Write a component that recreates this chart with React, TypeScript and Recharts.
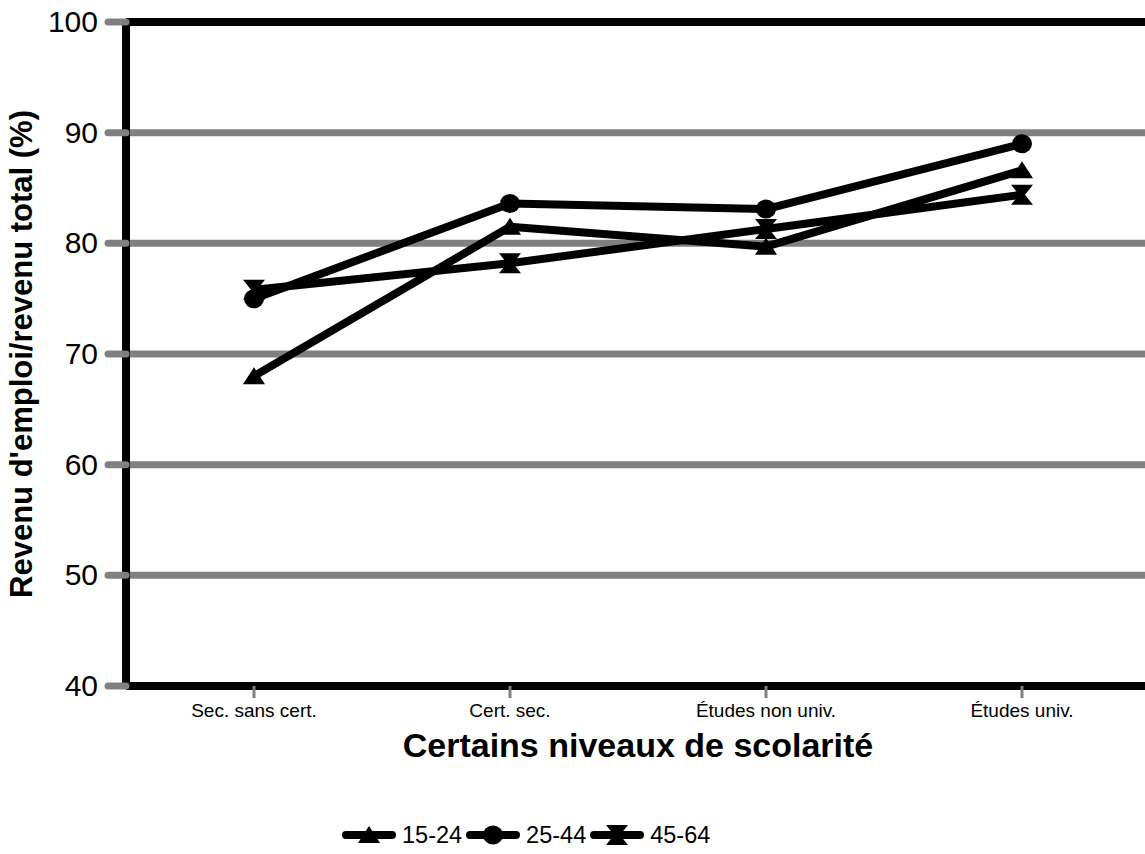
import { LineChart, Line, XAxis, YAxis, CartesianGrid, Legend, ReferenceLine, Label } from 'recharts';

const categories = ['Sec. sans cert.', 'Cert. sec.', 'Études non univ.', 'Études univ.'];
const age1524 = [68.0, 81.5, 79.7, 86.6];
const age2544 = [75.0, 83.6, 83.1, 89.0];
const age4564 = [75.8, 78.2, 81.3, 84.4];
const seriesNames = ['15-24', '25-44', '45-64'];
const yTicks = [40, 50, 60, 70, 80, 90, 100];

const data = categories.map((c, i) => ({
  name: c,
  a: age1524[i],
  b: age2544[i],
  c: age4564[i],
}));

const FONT = '"Liberation Sans", Arial, sans-serif';
const GREY = '#808080';

type Shape = 'tri' | 'circle' | 'hourglass';

function marker(shape: Shape, cx: number, cy: number, key?: string) {
  if (shape === 'tri') {
    return <polygon key={key} points={`${cx},${cy - 9} ${cx - 11},${cy + 8} ${cx + 11},${cy + 8}`} fill="#000" />;
  }
  if (shape === 'circle') {
    return <ellipse key={key} cx={cx} cy={cy} rx={10} ry={9.5} fill="#000" />;
  }
  return (
    <polygon
      key={key}
      points={`${cx - 11},${cy - 10} ${cx + 11},${cy - 10} ${cx + 3},${cy} ${cx + 11},${cy + 10} ${cx - 11},${cy + 10} ${cx - 3},${cy}`}
      fill="#000"
    />
  );
}

const makeDot = (shape: Shape) => (props: any) => {
  const { cx, cy, index } = props;
  if (cx == null || cy == null) return <g key={`${shape}-${index}`} />;
  return marker(shape, cx, cy, `${shape}-${index}`);
};

const shapes: Shape[] = ['tri', 'circle', 'hourglass'];

function LegendRow() {
  return (
    <div style={{ height: 80, paddingTop: 46, boxSizing: 'border-box', display: 'flex', paddingLeft: 342 }}>
      {seriesNames.map((n, i) => (
        <div key={n} style={{ display: 'flex', alignItems: 'center', height: 30, marginLeft: i === 0 ? 0 : 4 }}>
          <svg width={54} height={30}>
            <line x1={4} y1={15} x2={50} y2={15} stroke="#000" strokeWidth={8} strokeLinecap="round" />
            {marker(shapes[i], 27, 15)}
          </svg>
          <span style={{ marginLeft: 6, fontFamily: FONT, fontSize: 23.5, color: '#000' }}>{n}</span>
        </div>
      ))}
    </div>
  );
}

const XTick = (props: any) => {
  const { x, y, payload } = props;
  return (
    <text x={x} y={y + 17} textAnchor="middle" fontFamily={FONT} fontSize={19} fill="#000">
      {payload.value}
    </text>
  );
};

const YTick = (props: any) => {
  const { x, y, payload } = props;
  return (
    <text x={x} y={y} dy={10} textAnchor="end" fontFamily={FONT} fontSize={30} fill="#000">
      {payload.value}
    </text>
  );
};

export default function App() {
  return (
    <div style={{ position: 'absolute', left: 0, top: 0, width: 1145, height: 854, overflow: 'hidden', background: '#fff' }}>
      <LineChart width={1160} height={854} data={data} margin={{ top: 22, right: 10, bottom: 0, left: 0 }}>
        <CartesianGrid vertical={false} stroke={GREY} strokeWidth={7} />
        <XAxis
          dataKey="name"
          height={88}
          padding={{ left: 128, right: 128 }}
          axisLine={{ stroke: '#000', strokeWidth: 8 }}
          tickLine={{ stroke: GREY, strokeWidth: 3 }}
          tickSize={12}
          tick={<XTick />}
          interval={0}
        >
          <Label
            value="Certains niveaux de scolarité"
            position="insideBottom"
            offset={17}
            style={{ fontFamily: FONT, fontSize: 34, fontWeight: 'bold', fill: '#000' }}
          />
        </XAxis>
        <YAxis
          width={126}
          domain={[40, 100]}
          ticks={yTicks}
          interval={0}
          axisLine={{ stroke: '#000', strokeWidth: 8 }}
          tickLine={{ stroke: GREY, strokeWidth: 7, strokeLinecap: 'round' }}
          tickSize={18}
          tickMargin={10}
          tick={<YTick />}
        >
          <Label
            content={() => (
              <text
                transform="translate(21,354) rotate(-90)"
                textAnchor="middle"
                dominantBaseline="central"
                fontFamily={FONT}
                fontSize={31}
                fontWeight="bold"
                fill="#000"
              >
                Revenu d'emploi/revenu total (%)
              </text>
            )}
          />
        </YAxis>
        <ReferenceLine y={100} stroke="#000" strokeWidth={8} />
        <Line dataKey="a" name={seriesNames[0]} stroke="#000" strokeWidth={8} strokeLinejoin="round" dot={makeDot('tri')} activeDot={false} isAnimationActive={false} />
        <Line dataKey="b" name={seriesNames[1]} stroke="#000" strokeWidth={8} strokeLinejoin="round" dot={makeDot('circle')} activeDot={false} isAnimationActive={false} />
        <Line dataKey="c" name={seriesNames[2]} stroke="#000" strokeWidth={8} strokeLinejoin="round" dot={makeDot('hourglass')} activeDot={false} isAnimationActive={false} />
        <Legend verticalAlign="bottom" height={80} content={() => <LegendRow />} />
      </LineChart>
    </div>
  );
}
